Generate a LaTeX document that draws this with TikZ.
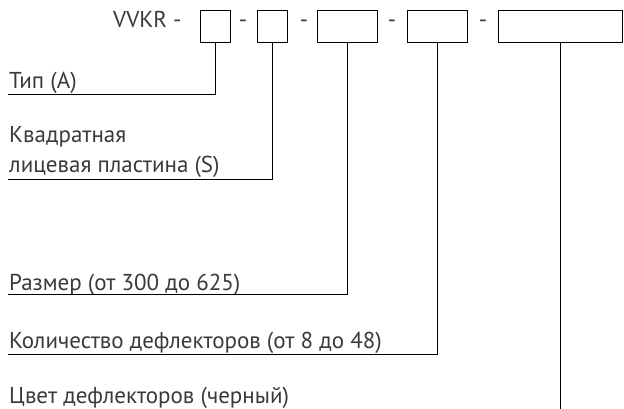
\documentclass[tikz,border=0pt]{standalone}
\usepackage{fontspec}
\setmainfont{PT Sans}
\definecolor{txt}{HTML}{3A3A3A}
\begin{document}
\begin{tikzpicture}[x=1pt,y=-1pt,
  codebox/.style={draw=black,line width=1.1pt,minimum height=32pt,inner sep=0pt,anchor=north west},
  lbl/.style={anchor=base west,inner sep=0pt,text=txt,font=\fontsize{23}{27}\selectfont},
  conn/.style={draw=black,line width=1pt}]
\useasboundingbox (0,0) rectangle (624,409);
\node[lbl] (code) at (113,28) {VVKR -};
\node[codebox,minimum width=30pt] (b1) at (200,10) {};
\node[lbl,anchor=base] (d1) at (243,28) {-};
\node[codebox,minimum width=30pt] (b2) at (257,10) {};
\node[lbl,anchor=base] (d2) at (304,28) {-};
\node[codebox,minimum width=60pt] (b3) at (317,10) {};
\node[lbl,anchor=base] (d3) at (392,28) {-};
\node[codebox,minimum width=60pt] (b4) at (407,10) {};
\node[lbl,anchor=base] (d4) at (483,28) {-};
\node[codebox,minimum width=124pt] (b5) at (498,10) {};
\node[lbl] (l1) at (9,89) {Тип (А)};
\node[lbl] (l2a) at (9,143) {Квадратная};
\node[lbl] (l2) at (9,172) {лицевая пластина (S)};
\node[lbl] (l3) at (9,290) {Размер (от 300 до 625)};
\node[lbl] (l4) at (9,348) {Количество дефлекторов (от 8 до 48)};
\node[lbl] (l5) at (9,403) {Цвет дефлекторов (черный)};
\coordinate (u1) at (8,95);
\coordinate (u2) at (8,180);
\coordinate (u3) at (8,294);
\coordinate (u4) at (8,354);
\coordinate (u5) at (561,409);
\draw[conn] (b1.south) |- (u1);
\draw[conn] (b2.south) |- (u2);
\draw[conn] (b3.south) |- (u3);
\draw[conn] (b4.south) |- (u4);
\draw[conn] (b5.south) -- (b5.south |- u5);
\end{tikzpicture}
\end{document}
